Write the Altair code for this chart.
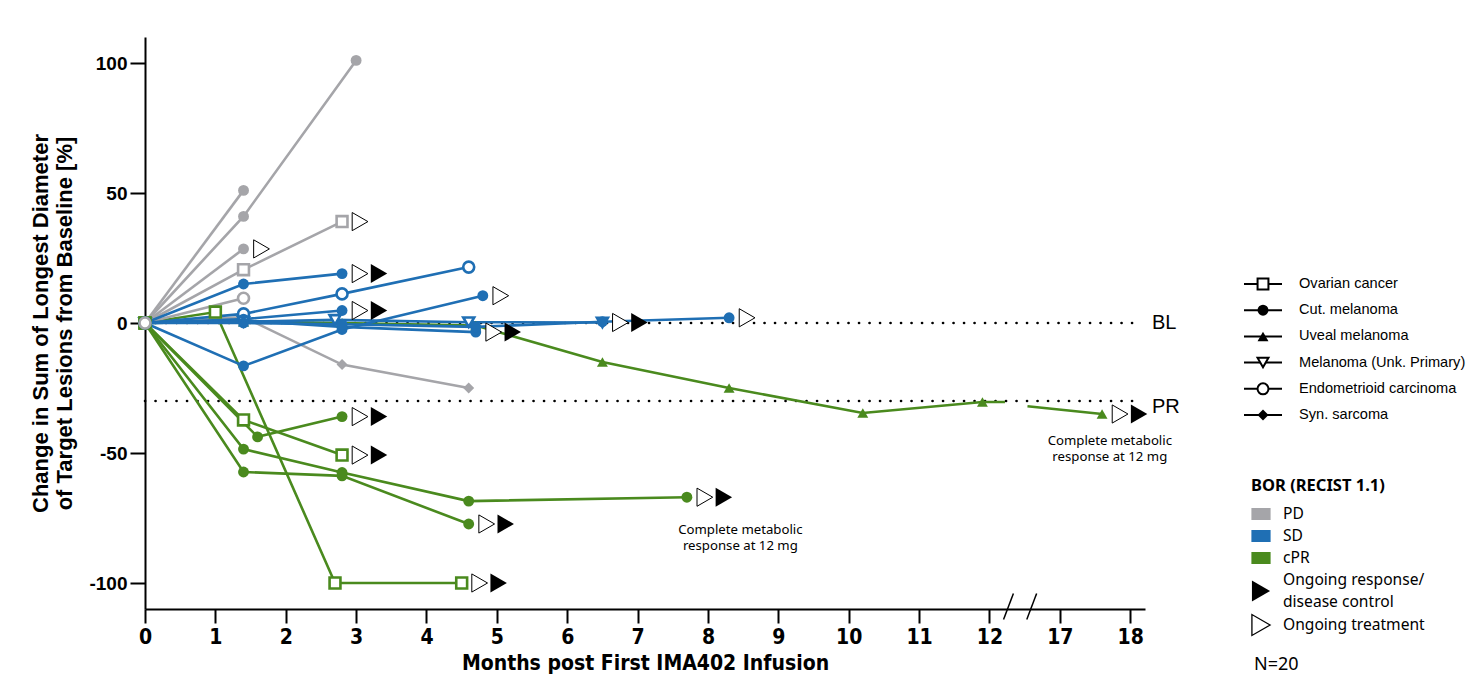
import altair as alt
import pandas as pd

# ---------------- categories ----------------
BOR_LEVELS = ["PD", "SD", "cPR"]
TYPES = ["Ovarian cancer", "Cut. melanoma", "Uveal melanoma",
         "Melanoma (Unk. Primary)", "Endometrioid carcinoma", "Syn. sarcoma"]
TYPE_OPEN = [True, False, False, True, True, False]

# ---------------- x axis (broken after 12 months) ----------------
X_TICK_MONTHS = [0, 1, 2, 3, 4, 5, 6, 7, 8, 9, 10, 11, 12, 17, 18]
BREAK_AFTER = 12
RESUME_AT = 17

# ---------------- patient series ----------------
PAT_BOR = ["PD"] * 6 + ["SD"] * 8 + ["cPR"] * 6
PAT_TYPE = [
    "Cut. melanoma", "Cut. melanoma", "Cut. melanoma", "Ovarian cancer",
    "Endometrioid carcinoma", "Syn. sarcoma",
    "Cut. melanoma", "Endometrioid carcinoma", "Cut. melanoma", "Cut. melanoma",
    "Cut. melanoma", "Melanoma (Unk. Primary)", "Cut. melanoma", "Uveal melanoma",
    "Ovarian cancer", "Ovarian cancer", "Cut. melanoma", "Cut. melanoma",
    "Cut. melanoma", "Uveal melanoma",
]
PAT_MONTHS = [
    [0, 1.4], [0, 1.4, 3.0], [0, 1.4], [0, 1.4, 2.8], [0, 1.4], [0, 1.4, 2.8, 4.6],
    [0, 1.4, 2.8], [0, 1.4, 2.8, 4.6], [0, 1.4, 2.8], [0, 1.4, 2.8, 4.8],
    [0, 1.4, 2.8, 4.7], [0, 1.4, 2.7, 4.6, 6.5], [0, 1.4, 2.8, 4.7, 6.5, 8.3], [0, 1.4],
    [0, 1.0, 2.7, 4.5], [0, 1.4, 2.8], [0, 1.6, 2.8], [0, 1.4, 2.8, 4.6, 7.7],
    [0, 1.4, 2.8, 4.6], [0, 1.4, 2.8, 4.7, 6.5, 8.3, 10.2, 11.9, 17.6],
]
PAT_CHANGE = [
    [0, 51], [0, 41, 101], [0, 28.5], [0, 20.5, 39], [0, 9.5], [0, 2.3, -16, -25],
    [0, 15, 19], [0, 3.5, 11.2, 21.5], [0, 1.5, 4.8], [0, -16.5, -2.5, 10.5],
    [0, 1, -1.5, -3.5], [0, 0.5, 1.2, 0.3, 0.2], [0, 0, -0.5, -1.5, 0.5, 2], [0, 0.5],
    [0, 4.2, -100, -100], [0, -37.3, -50.8], [0, -43.8, -36], [0, -48.5, -57.5, -68.5, -67],
    [0, -57.3, -58.8, -77.3], [0, 0.5, 0, -1, -15, -25, -34.6, -30.4, -35],
]
PAT_ONGOING_TX = [False, False, True, True, False, False,
                  True, False, True, True, True, True, True, False,
                  True, True, True, True, True, True]
PAT_ONGOING_RESP = [False, False, False, False, False, False,
                    True, False, True, False, True, True, False, False,
                    True, True, True, True, True, True]
# where the line crossing the axis break is interrupted (axis positions) and its values there
GAP_POS = [12.22, 12.54]
PAT_GAP_CHANGE = {19: [-30.4, -32.0]}

REF_NAMES = ["BL", "PR"]
REF_CHANGE = [0, -30]

NOTE_LINE1 = ["Complete metabolic", "Complete metabolic"]
NOTE_LINE2 = ["response at 12 mg", "response  at 12 mg"]
NOTE_MONTH = [8.46, 17.71]
NOTE_CHANGE1 = [-79.6, -45.4]
NOTE_CHANGE2 = [-85.8, -51.6]

ONGOING_LABELS = [["Ongoing response/", "disease control"], ["Ongoing treatment"]]
BOR_TITLE = "BOR (RECIST 1.1)"
N_LABEL = "N=20"

# ---------------- styles ----------------
BOR_COLORS = ["#a5a5a9", "#1f6fb4", "#4a8a1e"]
TYPE_SHAPES = ["square", "circle", "triangle-up", "triangle-down", "circle", "diamond"]
MARKER_SIZES = [118, 121, 170, 120, 125, 130]
LEG_SIZES = [70, 60, 90, 70, 70, 95]
ARIAL = "Liberation Sans, Arial, sans-serif"
NARROW = "Liberation Sans Narrow, DejaVu Sans Condensed, Arial Narrow, sans-serif"
NOTO = "Noto Sans, Open Sans, sans-serif"

SHIFT = RESUME_AT - BREAK_AFTER - 1


def to_pos(m):
    return m if m <= BREAK_AFTER + 0.5 else m - SHIFT


# ---------------- tables ----------------
line_rows, pt_rows, origin_rows, arrow_rows = [], [], [], []
for i, (b, t, ms, vs) in enumerate(zip(PAT_BOR, PAT_TYPE, PAT_MONTHS, PAT_CHANGE)):
    pts = [(to_pos(m), v) for m, v in zip(ms, vs)]
    if i in PAT_GAP_CHANGE:
        e0, e1 = PAT_GAP_CHANGE[i]
        seg_a = [p for p in pts if p[0] < GAP_POS[0]] + [(GAP_POS[0], e0)]
        seg_b = [(GAP_POS[1], e1)] + [p for p in pts if p[0] > GAP_POS[1]]
        segs = [seg_a, seg_b]
    else:
        segs = [pts]
    for k, seg in enumerate(segs):
        for p, v in seg:
            line_rows.append({"seg": f"{i}-{k}", "pos": p, "change": v, "bor": b})
    is_open = TYPE_OPEN[TYPES.index(t)]
    for p, v in pts:
        row = {"pid": i, "pos": p, "change": v, "bor": b, "ctype": t, "open": is_open}
        if p == 0:
            trank = 2 if t == "Endometrioid carcinoma" else (1 if t == "Ovarian cancer" else 0)
            bi = BOR_LEVELS.index(b)
            row["rank"] = trank * 10 + (bi if t == "Ovarian cancer" else 2 - bi)
            origin_rows.append(row)
        else:
            pt_rows.append(row)
    lp, lv = pts[-1]
    arrow_rows.append({"pos": lp, "change": lv, "tx": PAT_ONGOING_TX[i],
                       "resp": PAT_ONGOING_RESP[i]})

lines_df = pd.DataFrame(line_rows)
pts_df = pd.DataFrame(pt_rows)
origin_df = pd.DataFrame(origin_rows)
arrows_df = pd.DataFrame(arrow_rows)
ref_df = pd.DataFrame({"name": REF_NAMES, "change": REF_CHANGE})
note_df = pd.DataFrame({
    "note": NOTE_LINE1 + NOTE_LINE2,
    "pos": [to_pos(m) for m in NOTE_MONTH] * 2,
    "change": NOTE_CHANGE1 + NOTE_CHANGE2,
})
brk_center = [12.27, 12.6]
brk_df = pd.DataFrame({"pos": [c - 0.07 for c in brk_center],
                       "pos2": [c + 0.07 for c in brk_center],
                       "change": [-114.0] * 2, "change2": [-104.0] * 2})

# ---------------- scales / axes ----------------
color_scale = alt.Scale(domain=BOR_LEVELS, range=BOR_COLORS)
shape_scale = alt.Scale(domain=TYPES, range=TYPE_SHAPES)
size_scale = alt.Scale(domain=TYPES, range=MARKER_SIZES)

x_axis = alt.Axis(
    values=list(range(len(X_TICK_MONTHS))),
    labelExpr=f"datum.value <= {BREAK_AFTER} ? '' + datum.value : '' + (datum.value + {SHIFT})",
    title="Months post First IMA402 Infusion",
    titleFont=NARROW, titleFontSize=21, titleFontWeight="bold", titleColor="black",
    titlePadding=5,
    labelFont=NARROW, labelFontSize=21, labelFontWeight="bold", labelColor="black",
    labelPadding=3, labelFlush=False,
    tickSize=14, tickWidth=2, tickColor="black", domainWidth=2, domainColor="black",
    grid=False,
)
y_axis = alt.Axis(
    values=[-100, -50, 0, 50, 100], labelExpr="'' + datum.value",
    title=["Change in Sum of Longest Diameter", "of Target Lesions from Baseline [%]"],
    titleFont=ARIAL, titleFontSize=22, titleFontWeight="bold", titleColor="black",
    titleLineHeight=24, titlePadding=12,
    labelFont=ARIAL, labelFontSize=19, labelFontWeight="bold", labelColor="black",
    labelPadding=3,
    tickSize=15, tickWidth=2, tickColor="black", domainWidth=2, domainColor="black",
    grid=False,
)
X = alt.X("pos:Q", scale=alt.Scale(domain=[0, 14.21], nice=False, zero=False), axis=x_axis)
Y = alt.Y("change:Q", scale=alt.Scale(domain=[-110, 110], nice=False, zero=False), axis=y_axis)


def point_enc(base, extra=None):
    enc = dict(
        x=X, y=Y,
        shape=alt.Shape("ctype:N", scale=shape_scale, legend=None),
        size=alt.Size("ctype:N", scale=size_scale, legend=None),
        fill=alt.condition("datum.open", alt.value("white"),
                           alt.Color("bor:N", scale=color_scale, legend=None)),
        stroke=alt.Stroke("bor:N", scale=color_scale, legend=None),
        strokeWidth=alt.condition("datum.open", alt.value(2.6), alt.value(0)),
    )
    if extra:
        enc.update(extra)
    return base.encode(**enc)


layers = []
layers.append(alt.Chart(ref_df).mark_rule(color="black", strokeWidth=2.6, strokeDash=[0.1, 10.4],
                                          strokeCap="round")
              .encode(x=alt.value(0), x2=alt.value(994), y=Y))
for b in ["cPR", "PD", "SD"]:
    layers.append(alt.Chart(lines_df[lines_df.bor == b]).mark_line(strokeWidth=2.6)
                  .encode(x=X, y=Y, detail="seg:N", order="pos:Q",
                          color=alt.Color("bor:N", scale=color_scale, legend=None)))
for b in ["cPR", "PD", "SD"]:
    layers.append(point_enc(alt.Chart(pts_df[pts_df.bor == b]).mark_point(filled=True, opacity=1)))
layers.append(point_enc(alt.Chart(origin_df).mark_point(filled=True, opacity=1),
                        {"order": alt.Order("rank:Q")}))
layers.append(alt.Chart(arrows_df[arrows_df.tx]).mark_point(
    shape="triangle-right", size=330, filled=True, fill="white", stroke="black",
    strokeWidth=1, opacity=1, xOffset=18).encode(x=X, y=Y))
layers.append(alt.Chart(arrows_df[arrows_df.resp]).mark_point(
    shape="triangle-right", size=360, filled=True, fill="black", stroke="black",
    strokeWidth=0, opacity=1, xOffset=37).encode(x=X, y=Y))
REF_DY = [0, 6]
for name, dy in zip(REF_NAMES, REF_DY):
    layers.append(alt.Chart(ref_df[ref_df.name == name]).mark_text(
        align="left", baseline="middle", font=ARIAL, fontSize=20, color="black", dy=dy)
        .encode(x=alt.value(1007), y=Y, text="name:N"))
layers.append(alt.Chart(note_df).mark_text(
    align="center", baseline="middle", font=NOTO, fontSize=13.2, color="black")
    .encode(x=X, y=Y, text="note:N"))
layers.append(alt.Chart(brk_df).mark_rule(color="black", strokeWidth=1.5)
              .encode(x=X, x2="pos2:Q", y=Y, y2="change2:Q"))

main = alt.layer(*layers).properties(width=1000, height=572)

# ---------------- legend panel ----------------
LW, LH = 225, 630
LSX = alt.Scale(domain=[0, LW], nice=False, zero=False)
LX = alt.X("lx:Q", scale=LSX, axis=None)
LY = alt.Y("ly:Q", scale=alt.Scale(domain=[0, LH], nice=False, zero=False, reverse=True),
           axis=None)

shape_rows = pd.DataFrame({"ctype": TYPES, "open": TYPE_OPEN,
                           "ly": [247 + 26.2 * i for i in range(len(TYPES))]})
shape_rows["lx"] = 26
shape_rows["lx1"] = 7
shape_rows["lx2"] = 45
shape_rows["tx"] = 62

leg = []
leg.append(alt.Chart(shape_rows).mark_rule(color="black", strokeWidth=2)
           .encode(x=alt.X("lx1:Q", scale=LSX, axis=None), x2="lx2:Q", y=LY))
leg.append(alt.Chart(shape_rows).mark_point(filled=True, opacity=1).encode(
    x=LX, y=LY,
    shape=alt.Shape("ctype:N", scale=shape_scale, legend=None),
    size=alt.Size("ctype:N", scale=alt.Scale(domain=TYPES, range=LEG_SIZES), legend=None),
    fill=alt.condition("datum.open", alt.value("white"), alt.value("black")),
    stroke=alt.value("black"),
    strokeWidth=alt.condition("datum.open", alt.value(2), alt.value(0))))
leg.append(alt.Chart(shape_rows).mark_text(align="left", baseline="middle", font=ARIAL,
                                           fontSize=14.6, color="black")
           .encode(x=alt.X("tx:Q", scale=LSX, axis=None), y=LY, text="ctype:N"))

title_df = pd.DataFrame({"lx": [14], "ly": [449], "t": [BOR_TITLE]})
leg.append(alt.Chart(title_df).mark_text(align="left", baseline="middle", font=NOTO,
                                         fontSize=16.5, fontWeight="bold", color="black")
           .encode(x=LX, y=LY, text="t:N"))
bor_df = pd.DataFrame({"bor": BOR_LEVELS, "ly": [477 + 22 * i for i in range(3)]})
bor_df["lx"] = 24
bor_df["tx"] = 46
leg.append(alt.Chart(bor_df).mark_point(shape="M-1.6,-1H1.6V1H-1.6Z", size=144, filled=True,
                                        opacity=1, strokeWidth=0)
           .encode(x=LX, y=LY, fill=alt.Color("bor:N", scale=color_scale, legend=None)))
leg.append(alt.Chart(bor_df).mark_text(align="left", baseline="middle", font=NOTO,
                                       fontSize=15.6, color="black")
           .encode(x=alt.X("tx:Q", scale=LSX, axis=None), y=LY, text="bor:N"))

on_marks = pd.DataFrame({"lx": [24, 24], "ly": [554, 588], "kind": ["resp", "tx"]})
leg.append(alt.Chart(on_marks[on_marks.kind == "resp"]).mark_point(
    shape="triangle-right", size=440, filled=True, fill="black", strokeWidth=0, opacity=1)
    .encode(x=LX, y=LY))
leg.append(alt.Chart(on_marks[on_marks.kind == "tx"]).mark_point(
    shape="triangle-right", size=440, filled=True, fill="white", stroke="black",
    strokeWidth=1.3, opacity=1).encode(x=LX, y=LY))
on_text = pd.DataFrame({"t": ONGOING_LABELS[0] + ONGOING_LABELS[1],
                        "ly": [543, 565, 588], "lx": [46, 46, 46]})
leg.append(alt.Chart(on_text).mark_text(align="left", baseline="middle", font=NOTO,
                                        fontSize=15.6, color="black")
           .encode(x=LX, y=LY, text="t:N"))
n_df = pd.DataFrame({"lx": [17], "ly": [628], "t": [N_LABEL]})
leg.append(alt.Chart(n_df).mark_text(align="left", baseline="middle", font=NOTO,
                                     fontSize=18, color="black")
           .encode(x=LX, y=LY, text="t:N"))

legend_panel = alt.layer(*leg).properties(width=LW, height=LH)

chart = alt.hconcat(main, legend_panel, spacing=57).properties(
    padding={"left": 21, "top": 29, "right": 0, "bottom": 0}
).configure_view(stroke=None)

chart.save("out.html", embed_options={"renderer": "svg", "actions": False})
